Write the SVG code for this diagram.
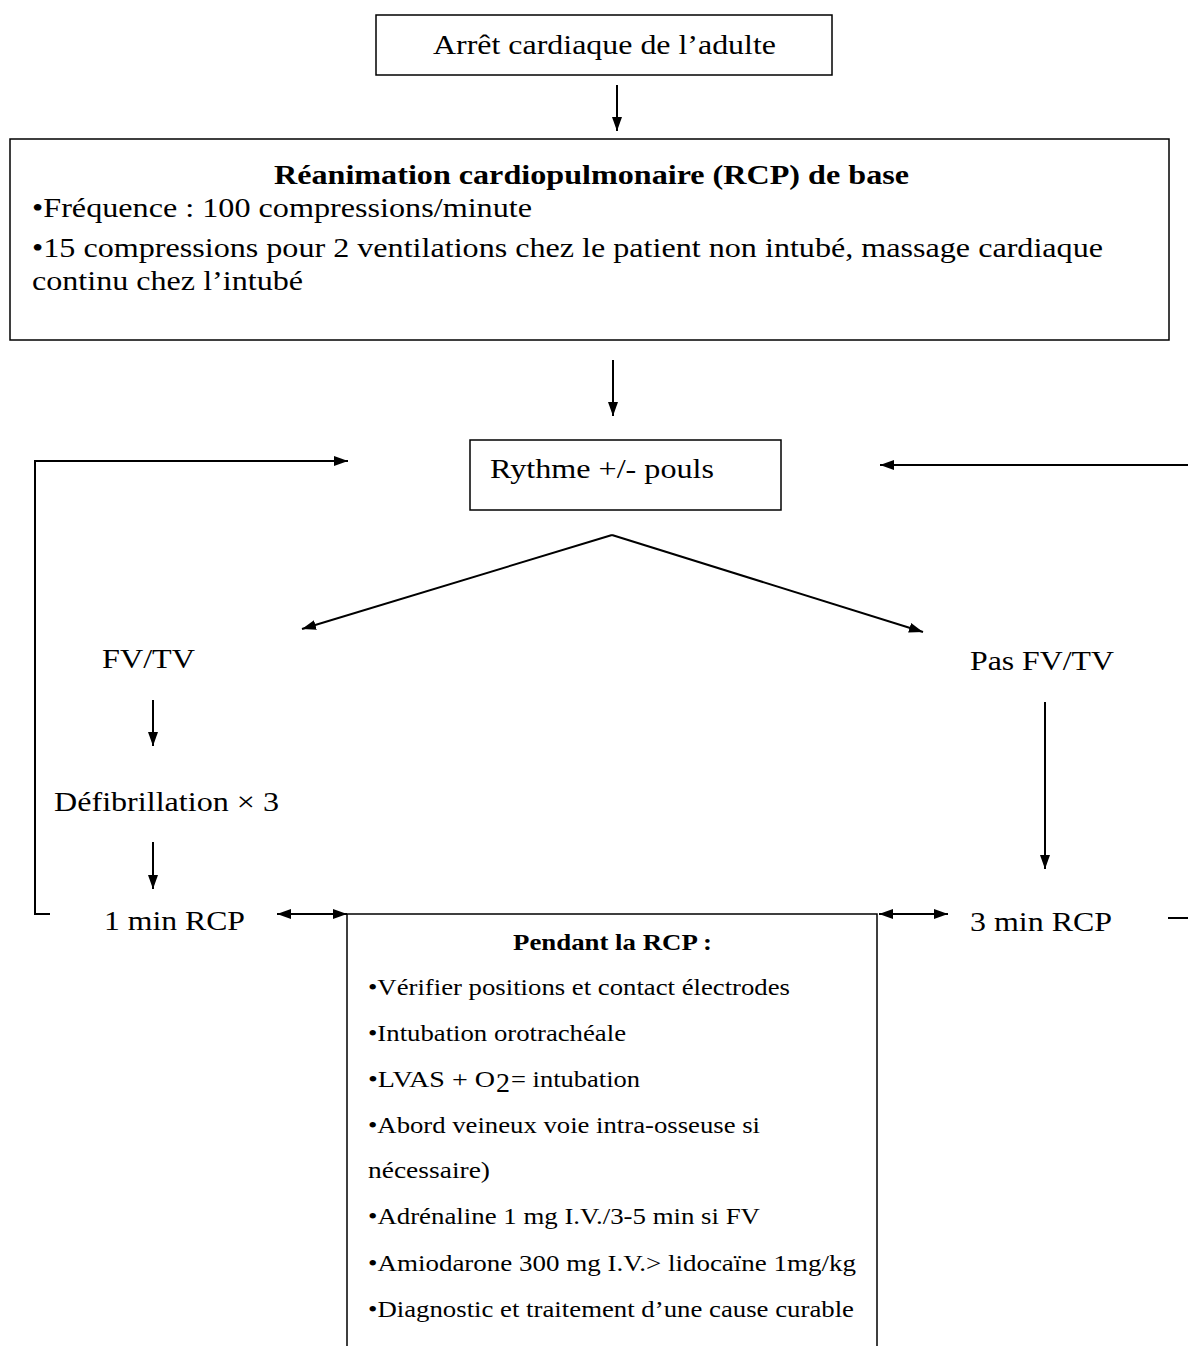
<svg xmlns="http://www.w3.org/2000/svg" width="1188" height="1346" viewBox="0 0 1188 1346">
<style>
.t{font-family:"Liberation Serif","Times New Roman",serif;fill:#000;font-size:28px}
.b{font-weight:bold}
.s{font-size:23px}
.box{fill:#fff;stroke:#000;stroke-width:1.5}
.ln{fill:none;stroke:#000;stroke-width:2}
</style>
<defs>
<marker id="ah" viewBox="0 0 14 10" refX="14" refY="5" markerWidth="14" markerHeight="10" markerUnits="userSpaceOnUse" orient="auto-start-reverse"><path d="M0,0 L14,5 L0,10 Z" fill="#000"/></marker>
</defs>
<g id="connectors">
<line class="ln" x1="617" y1="85" x2="617" y2="131" marker-end="url(#ah)"/>
<line class="ln" x1="613" y1="360" x2="613" y2="416" marker-end="url(#ah)"/>
<polyline class="ln" points="50,914 35,914 35,461 348,461" marker-end="url(#ah)"/>
<line class="ln" x1="1188" y1="465" x2="880" y2="465" marker-end="url(#ah)"/>
<line class="ln" x1="612" y1="535" x2="302" y2="629" marker-end="url(#ah)"/>
<line class="ln" x1="612" y1="535" x2="923" y2="632" marker-end="url(#ah)"/>
<line class="ln" x1="153" y1="700" x2="153" y2="746" marker-end="url(#ah)"/>
<line class="ln" x1="153" y1="842" x2="153" y2="889" marker-end="url(#ah)"/>
<line class="ln" x1="1045" y1="702" x2="1045" y2="869" marker-end="url(#ah)"/>
<line class="ln" x1="277" y1="914" x2="347" y2="914" marker-start="url(#ah)" marker-end="url(#ah)"/>
<line class="ln" x1="879" y1="914" x2="948" y2="914" marker-start="url(#ah)" marker-end="url(#ah)"/>
<line class="ln" x1="1168" y1="918" x2="1188" y2="918"/>
</g>
<g id="n1">
<rect class="box" x="376" y="15" width="456" height="60"/>
<text class="t" x="433" y="54" textLength="343" lengthAdjust="spacingAndGlyphs">Arrêt cardiaque de l’adulte</text>
</g>
<g id="n2">
<rect class="box" x="10" y="139" width="1159" height="201"/>
<text class="t b" x="274" y="184" textLength="635" lengthAdjust="spacingAndGlyphs">Réanimation cardiopulmonaire (RCP) de base</text>
<text class="t" x="32" y="217" textLength="500" lengthAdjust="spacingAndGlyphs">•Fréquence : 100 compressions/minute</text>
<text class="t" x="32" y="257" textLength="1071" lengthAdjust="spacingAndGlyphs">•15 compressions pour 2 ventilations chez le patient non intubé, massage cardiaque</text>
<text class="t" x="32" y="290" textLength="271" lengthAdjust="spacingAndGlyphs">continu chez l’intubé</text>
</g>
<g id="n3">
<rect class="box" x="470" y="440" width="311" height="70"/>
<text class="t" x="490" y="478" textLength="224" lengthAdjust="spacingAndGlyphs">Rythme +/- pouls</text>
</g>
<g id="n4"><text class="t" x="102" y="668" textLength="93" lengthAdjust="spacingAndGlyphs">FV/TV</text></g>
<g id="n5"><text class="t" x="970" y="670" textLength="144" lengthAdjust="spacingAndGlyphs">Pas FV/TV</text></g>
<g id="n6"><text class="t" x="54" y="811" textLength="225" lengthAdjust="spacingAndGlyphs">Défibrillation × 3</text></g>
<g id="n7"><text class="t" x="104" y="930" textLength="141" lengthAdjust="spacingAndGlyphs">1 min RCP</text></g>
<g id="n8"><text class="t" x="970" y="931" textLength="142" lengthAdjust="spacingAndGlyphs">3 min RCP</text></g>
<g id="n9">
<path class="box" d="M347,1350 L347,914 L877,914 L877,1350"/>
<text class="t s b" x="513" y="950" textLength="199" lengthAdjust="spacingAndGlyphs">Pendant la RCP :</text>
<text class="t s" x="368" y="995" textLength="422" lengthAdjust="spacingAndGlyphs">•Vérifier positions et contact électrodes</text>
<text class="t s" x="368" y="1041" textLength="258" lengthAdjust="spacingAndGlyphs">•Intubation orotrachéale</text>
<text class="t s" x="368" y="1087" textLength="127" lengthAdjust="spacingAndGlyphs">•LVAS + O</text>
<text class="t" x="496" y="1092" font-size="14">2</text>
<text class="t s" x="511" y="1087" textLength="129" lengthAdjust="spacingAndGlyphs">= intubation</text>
<text class="t s" x="368" y="1133" textLength="392" lengthAdjust="spacingAndGlyphs">•Abord veineux voie intra-osseuse si</text>
<text class="t s" x="368" y="1178" textLength="122" lengthAdjust="spacingAndGlyphs">nécessaire)</text>
<text class="t s" x="368" y="1224" textLength="392" lengthAdjust="spacingAndGlyphs">•Adrénaline 1 mg I.V./3-5 min si FV</text>
<text class="t s" x="368" y="1271" textLength="488" lengthAdjust="spacingAndGlyphs">•Amiodarone 300 mg I.V.&gt; lidocaïne 1mg/kg</text>
<text class="t s" x="368" y="1317" textLength="486" lengthAdjust="spacingAndGlyphs">•Diagnostic et traitement d’une cause curable</text>
</g>
</svg>
